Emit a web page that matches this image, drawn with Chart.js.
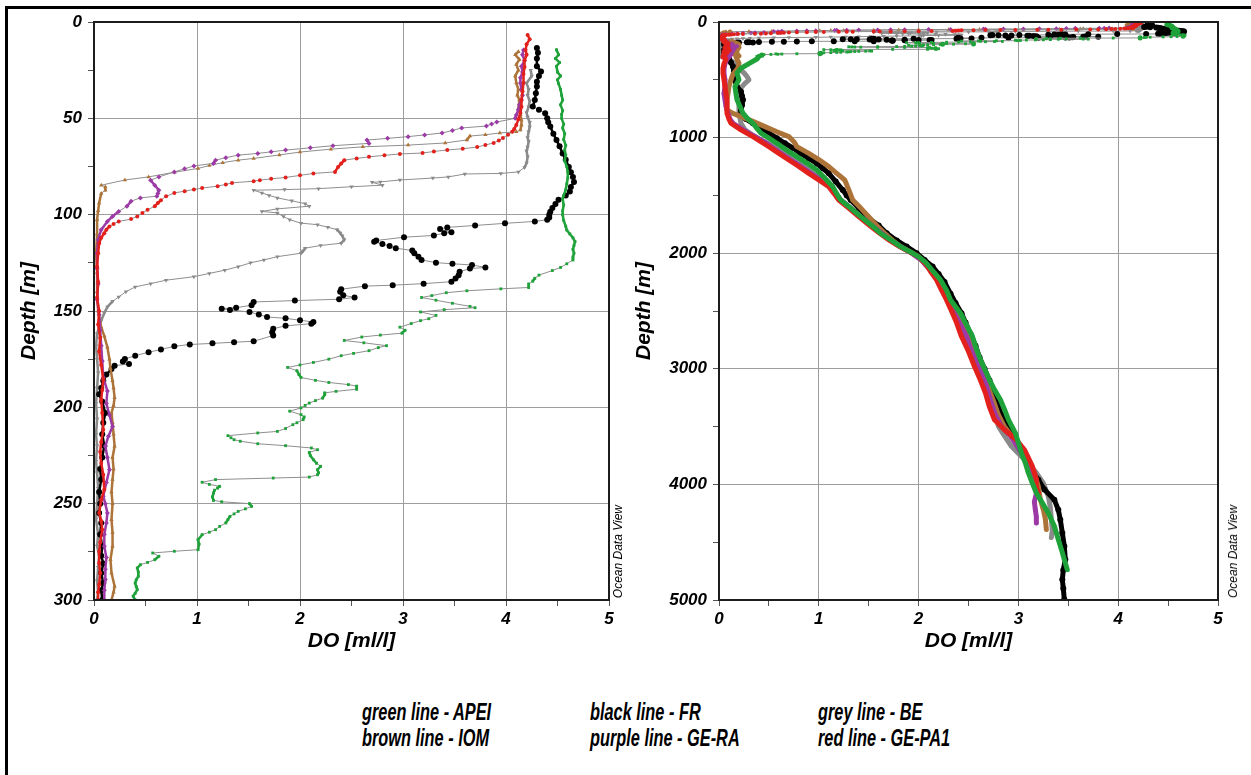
<!DOCTYPE html>
<html>
<head>
<meta charset="utf-8">
<script src="https://cdn.jsdelivr.net/npm/chart.js@4.4.1/dist/chart.umd.min.js"></script>
<style>
	body { margin: 0; background: #fff; width: 1251px; height: 775px; overflow: hidden; position: relative; }
	.frame { position: absolute; left: 5px; top: 6px; width: 1300px; height: 820px; border-left: 3px solid #000; border-top: 3px solid #000; }
	.panel { position: absolute; top: 0; }
	.odv { position: absolute; bottom: 177px; font: italic 12px "Liberation Sans", Arial, sans-serif; color: #000; writing-mode: vertical-rl; transform: rotate(180deg); line-height: 12px; }
	.key { position: absolute; font: italic bold 23px "Liberation Sans", Arial, sans-serif; color: #000; white-space: nowrap; line-height: 26px; transform: scaleX(0.71); transform-origin: 0 0; }
</style>
</head>
<body>
<div class="frame"></div>
<canvas id="upper" class="panel" style="left:0" width="630" height="660"></canvas>
<canvas id="full" class="panel" style="left:625px" width="626" height="660"></canvas>
<div class="odv" style="left:612px">Ocean Data View</div>
<div class="odv" style="left:1227px">Ocean Data View</div>
<div class="key" style="left:362px;top:699px">green line - APEI<br>brown line - IOM</div>
<div class="key" style="left:590px;top:699px">black line - FR<br>purple line - GE-RA</div>
<div class="key" style="left:818px;top:699px">grey line - BE<br>red line - GE-PA1</div>

<script>
// ---- upper 300 m profiles (depth m / DO ml/l) ----
const apeiDepth = [14.4,17,19,21,23,26,28,30,32,35,38,40.5,43,46,48,50,53,55,58,61,64,66.5,69,72,75,78,81,84,87,90,92,95,98,100,103,106,108,110,112,114,116,118,120,122,123.5,125.5,127.4,129,131.4,133,134.5,136,137.8,138.5,139.5,140.5,142,143,144.4,146,147.6,148.3,149.3,150.5,152.3,154,155,156.5,158.4,160,161.5,162.5,163.5,165.3,166.5,168,169,170.6,172,173.2,175,176.7,178,179.3,181,183,184.5,186,187.1,188.2,189,190.6,191.7,192.5,193.4,195.2,196.5,197.8,199,200.3,202,203.8,205,206.4,208,209,211,212.5,213.3,214.7,215.8,216.8,217.6,218.9,219.9,221.1,222,223.4,225,227.2,229,230.6,232.4,234,235,236.2,236.7,237.5,238.9,240,241,241.9,243,244.5,246.5,248.3,249,250,251.4,252.7,254,255.3,256.6,258.3,260,261.8,263.5,264.8,266.1,268.7,271,273.9,274.7,275.6,277.3,279.1,280.5,281.7,283.4,285.5,287.7,289.5,291.2,293,294.6,296.5,298,300];
const apeiDO = [4.49,4.51,4.48,4.52,4.49,4.50,4.53,4.50,4.51,4.53,4.54,4.55,4.53,4.55,4.54,4.54,4.56,4.55,4.57,4.56,4.58,4.57,4.58,4.57,4.59,4.60,4.60,4.59,4.58,4.56,4.55,4.56,4.55,4.55,4.56,4.58,4.59,4.62,4.65,4.67,4.66,4.65,4.66,4.65,4.65,4.59,4.53,4.45,4.32,4.28,4.26,4.22,4.22,3.95,3.62,3.42,3.28,3.18,3.32,3.48,3.65,3.70,3.40,3.17,3.32,3.25,3.17,3.08,2.97,3.02,2.99,2.78,2.60,2.43,2.62,2.84,2.76,2.67,2.52,2.40,2.28,2.13,2.00,1.88,1.97,1.99,2.01,2.15,2.28,2.47,2.55,2.55,2.35,2.24,2.24,2.22,2.15,2.09,2.05,2.01,1.90,2.01,2.04,2.03,1.97,1.93,1.86,1.78,1.59,1.30,1.33,1.36,1.42,1.59,1.86,2.11,2.17,2.09,2.10,2.13,2.16,2.20,2.17,2.18,2.17,2.09,1.74,1.18,1.05,1.12,1.22,1.20,1.17,1.16,1.15,1.16,1.24,1.51,1.53,1.47,1.40,1.36,1.32,1.30,1.28,1.22,1.18,1.12,1.05,1.01,1.02,1.01,0.78,0.57,0.63,0.59,0.52,0.45,0.42,0.43,0.43,0.41,0.40,0.41,0.42,0.40,0.38,0.40];

const frDepth = [13.5,16,19,23,25.7,28,31,33.5,37,40.5,43.9,45.5,47.4,50,52,54.3,58,61.3,64.5,68.2,71.5,75.2,78,80.4,83,85.6,88,90,92.2,94.5,96.5,98.5,100,101.5,102.6,103.5,104.5,105.6,106.6,107.5,109.1,109.6,110.8,111.7,113.4,114.1,115.2,116.3,117.4,118.6,120,121.8,123.5,124.9,125.5,126.1,127.4,128,129.6,131.5,133.1,134.8,135.8,136.6,137.1,138.7,140,141.8,143,143.9,144.6,145.3,147,148.3,148.8,149.5,150.5,151.8,153.1,153.8,154.8,155.7,156.6,157.7,159.2,161,162.7,165.7,166.2,166.8,167.4,168.3,170,171.4,173.2,174.9,176.2,177.5,178.4,180.1,183,186.2,190,193.2,197,203,208,214,220,226,232,237.5,244,250,254.8,260,266,272,277,281,286,291,295,300];
const frDO = [4.30,4.31,4.30,4.30,4.34,4.32,4.30,4.30,4.29,4.28,4.26,4.32,4.38,4.40,4.41,4.43,4.46,4.49,4.52,4.55,4.58,4.61,4.63,4.65,4.66,4.63,4.62,4.58,4.51,4.48,4.45,4.43,4.42,4.42,4.40,4.28,3.99,3.70,3.43,3.36,3.47,3.40,3.30,3.01,2.74,2.72,2.80,2.87,2.93,3.09,3.11,3.15,3.18,3.32,3.48,3.67,3.80,3.65,3.55,3.54,3.51,3.47,3.20,2.90,2.63,2.40,2.39,2.42,2.53,2.38,1.95,1.55,1.53,1.38,1.24,1.32,1.51,1.60,1.68,1.86,2.00,2.13,2.11,1.86,1.74,1.73,1.74,1.55,1.36,1.15,0.93,0.78,0.65,0.53,0.40,0.30,0.28,0.34,0.20,0.17,0.12,0.09,0.07,0.05,0.08,0.11,0.09,0.08,0.10,0.08,0.06,0.07,0.05,0.06,0.05,0.07,0.06,0.08,0.07,0.09,0.07,0.09,0.07,0.08];

const beDepth = [25,28,31.7,35,38,41,44,47,49.3,52,54.5,57,60,62,64.9,67,70,73.2,75.5,77.8,78.6,78.9,80.4,81,82,83,83.2,84.7,85.5,86.5,87,87.3,88.7,90,91.3,92.8,94.3,95.6,97,98.3,99.1,101,102.6,104.4,105.2,106.5,107.8,109.5,111,113,114.8,116,117.4,118.8,120,121.8,123.5,125,127,128.8,130.5,132.2,134,135.8,137.5,140,142.7,145,147.9,151,154.9,158,161.8,168,175,182,190,198,206,214,220,228,234,242,250,258,266,272,277,283,290,296,300];
const beDO = [4.24,4.25,4.20,4.22,4.21,4.23,4.22,4.20,4.21,4.23,4.23,4.22,4.21,4.22,4.21,4.20,4.21,4.20,4.18,4.12,3.95,3.60,3.44,3.29,2.97,2.78,2.70,2.80,2.50,2.18,1.85,1.55,1.63,1.70,1.78,1.92,2.05,2.09,1.78,1.63,1.78,1.84,1.90,2.01,2.17,2.27,2.36,2.39,2.41,2.43,2.40,2.20,2.05,2.03,2.01,1.78,1.65,1.52,1.40,1.27,1.12,0.97,0.70,0.55,0.40,0.31,0.24,0.18,0.13,0.10,0.07,0.05,0.03,0.02,0.03,0.04,0.03,0.02,0.03,0.02,0.03,0.02,0.03,0.04,0.03,0.02,0.04,0.03,0.05,0.04,0.03,0.04,0.03];

const iomDepth = [15.4,17,19.5,22,25,28,31.7,35,38,40.5,44.8,48,50.9,53.5,56.1,57,57.6,58.5,59.2,61.2,62.8,63.9,64.8,66,67.5,69,70.8,71.7,73,74.5,76,78,80.4,82,84.7,85.6,87.3,89,93.9,98,102.6,110,120,130,140,150,158.4,163,168.8,175,180,186.2,190,195,199,202.9,208,214,220.2,226,232,237.5,244,250,258.3,265,272.1,279,286,292.9,296,300];
const iomDO = [4.12,4.09,4.13,4.10,4.12,4.09,4.10,4.12,4.11,4.13,4.12,4.14,4.15,4.15,4.14,4.10,3.94,3.80,3.65,3.62,3.41,3.05,2.61,2.30,2.00,1.80,1.55,1.40,1.25,1.12,1.01,0.78,0.53,0.30,0.07,0.11,0.11,0.07,0.05,0.04,0.03,0.03,0.02,0.03,0.03,0.04,0.07,0.10,0.13,0.15,0.16,0.18,0.19,0.20,0.19,0.17,0.18,0.19,0.20,0.18,0.19,0.18,0.17,0.18,0.17,0.18,0.18,0.16,0.17,0.20,0.19,0.17];

const geraDepth = [14.5,17,20,23,26,29,31.7,35,38,40.5,43,45.5,48.3,50,51.9,53,54,55,56.3,57.6,58.6,59.5,60.4,61.3,63,64.2,65.3,66.5,67.4,68.2,69.1,70.4,71.7,73.4,74.7,76.2,77.8,80.4,82.1,84.7,87.3,89,90.4,91.3,93,95.6,98.3,100.9,103.5,107.8,113,120,128,136,144,152,160,168,176,184.5,191.5,198,204,209.9,215,220.2,226,232.4,239,246.2,250,254.8,260,266,272.1,278,284,289.4,295,300];
const geraDO = [4.17,4.16,4.18,4.15,4.16,4.14,4.14,4.15,4.16,4.15,4.13,4.12,4.10,4.09,3.91,3.86,3.81,3.57,3.48,3.38,3.21,3.05,2.85,2.65,2.67,2.32,2.10,1.86,1.72,1.59,1.40,1.28,1.18,1.16,0.97,0.88,0.78,0.63,0.55,0.59,0.63,0.62,0.61,0.45,0.36,0.32,0.24,0.18,0.13,0.07,0.04,0.03,0.03,0.04,0.03,0.05,0.06,0.07,0.08,0.09,0.13,0.12,0.15,0.18,0.14,0.11,0.13,0.15,0.12,0.09,0.11,0.13,0.12,0.10,0.10,0.12,0.11,0.11,0.10,0.10];

const gepaDepth = [6.7,9,11.5,14.5,17,20,23.4,27,31.7,36,40.5,44,47.2,50.5,53.5,55.5,57,58.5,60.2,61.5,62.8,63.8,64.9,65.8,66.4,67.2,68,68.5,69.2,70,70.8,71.7,73.5,75.2,77.8,78.6,79.6,80.7,81.4,82.1,82.6,83.5,84.3,85.2,86.2,86.9,87.8,88.7,90.5,92.5,94,95.6,97.5,99.1,100.9,102.3,103.5,104.8,106.1,107.8,109.6,112,114.8,120,127,135,143,150,157,164,171,178,185.6,191,196,203,211.6,218,223,228.9,235,242.7,248,254.8,259,263.5,270,275,280.8,286,292,296,300];
const gepaDO = [4.21,4.23,4.20,4.19,4.20,4.18,4.18,4.17,4.17,4.16,4.15,4.15,4.14,4.12,4.10,4.08,4.06,4.02,3.97,3.93,3.88,3.80,3.72,3.58,3.43,3.30,3.19,2.97,2.82,2.67,2.55,2.43,2.40,2.37,2.34,2.13,2.00,1.86,1.72,1.61,1.55,1.34,1.28,1.20,1.05,0.97,0.88,0.78,0.70,0.65,0.62,0.59,0.52,0.47,0.42,0.36,0.24,0.19,0.15,0.12,0.10,0.07,0.05,0.04,0.03,0.04,0.03,0.05,0.04,0.06,0.05,0.07,0.09,0.08,0.07,0.08,0.09,0.07,0.06,0.07,0.09,0.10,0.07,0.05,0.07,0.08,0.06,0.05,0.05,0.06,0.05,0.04,0.04];

// ---- deeper continuation, 300 m to the bottom ----
const apeiDeepDepth = [320,360,400,442,500,558,620,673,730,789,830,876,920,962,1005,1049,1110,1165,1220,1280,1350,1425,1500,1540,1610,1684,1760,1828,1890,1943,1990,2029,2080,2150,2231,2320,2404,2519,2620,2720,2830,2922,3000,3095,3180,3268,3350,3440,3556,3640,3729,3815,3901,3990,4074,4160,4247,4360,4477,4560,4650,4737];
const apeiDeepDO = [0.38,0.30,0.22,0.18,0.20,0.16,0.17,0.18,0.21,0.24,0.28,0.34,0.38,0.42,0.50,0.58,0.68,0.78,0.88,0.98,1.06,1.14,1.19,1.22,1.32,1.42,1.53,1.62,1.73,1.82,1.92,2.00,2.07,2.14,2.22,2.28,2.32,2.42,2.48,2.54,2.58,2.62,2.66,2.71,2.76,2.82,2.86,2.90,2.97,3.00,3.03,3.07,3.10,3.14,3.18,3.24,3.30,3.36,3.40,3.43,3.46,3.49];

const frDeepDepth = [320,350,384,430,480,520,558,601,640,673,720,760,803,840,876,920,962,1005,1049,1090,1136,1180,1223,1265,1309,1380,1454,1500,1540,1610,1684,1760,1828,1890,1943,2000,2058,2116,2180,2250,2350,2430,2520,2600,2700,2800,2900,3000,3100,3200,3300,3400,3500,3600,3700,3800,3900,3960,4045,4132,4220,4305,4420,4535,4650,4740,4823,4900,4996];
const frDeepDO = [0.10,0.12,0.14,0.15,0.16,0.17,0.18,0.22,0.23,0.24,0.23,0.22,0.22,0.27,0.34,0.42,0.50,0.58,0.66,0.74,0.82,0.90,0.98,1.04,1.10,1.17,1.24,1.28,1.32,1.40,1.48,1.60,1.68,1.78,1.88,1.98,2.06,2.14,2.20,2.26,2.32,2.37,2.43,2.47,2.52,2.57,2.61,2.66,2.71,2.75,2.79,2.83,2.89,2.96,3.04,3.10,3.15,3.20,3.26,3.36,3.40,3.42,3.44,3.46,3.47,3.45,3.44,3.45,3.46];

const beDeepDepth = [320,360,400,440,471,500,530,570,620,673,730,789,830,876,933,980,1020,1080,1136,1210,1280,1345,1410,1480,1540,1610,1684,1760,1828,1890,1943,2000,2060,2130,2231,2330,2420,2520,2620,2720,2820,2922,3020,3120,3210,3300,3400,3498,3580,3671,3750,3815,3900,3990,4103,4200,4300,4400,4460];
const beDeepDO = [0.10,0.16,0.20,0.25,0.28,0.30,0.26,0.22,0.20,0.20,0.20,0.20,0.21,0.22,0.26,0.34,0.42,0.56,0.70,0.80,0.90,1.00,1.10,1.16,1.22,1.32,1.42,1.53,1.62,1.72,1.82,1.94,2.04,2.11,2.20,2.26,2.31,2.38,2.44,2.50,2.55,2.60,2.64,2.68,2.71,2.74,2.77,2.80,2.86,2.93,3.02,3.10,3.18,3.25,3.30,3.32,3.33,3.34,3.33];

const iomDeepDepth = [320,355,400,450,500,558,620,673,730,760,790,818,860,905,950,991,1035,1078,1136,1190,1251,1310,1367,1450,1540,1610,1684,1760,1828,1890,1943,2000,2060,2130,2231,2330,2420,2520,2620,2720,2820,2922,3020,3120,3210,3300,3400,3498,3580,3671,3760,3850,3930,4020,4132,4220,4300,4391];
const iomDeepDO = [0.18,0.20,0.19,0.14,0.12,0.10,0.09,0.08,0.08,0.08,0.14,0.22,0.34,0.46,0.58,0.70,0.75,0.78,0.90,1.00,1.10,1.18,1.26,1.30,1.34,1.42,1.50,1.58,1.66,1.74,1.82,1.94,2.03,2.10,2.19,2.26,2.31,2.37,2.43,2.49,2.54,2.59,2.64,2.68,2.72,2.76,2.80,2.86,2.93,3.00,3.07,3.13,3.17,3.20,3.22,3.25,3.27,3.28];

const geraDeepDepth = [320,360,400,450,500,558,620,673,730,789,840,876,933,991,1040,1078,1136,1194,1250,1309,1367,1425,1480,1540,1610,1684,1760,1828,1890,1943,2000,2060,2130,2231,2330,2420,2520,2620,2720,2820,2922,3020,3120,3210,3300,3400,3498,3580,3671,3760,3850,3930,4010,4080,4150,4220,4280,4333];
const geraDeepDO = [0.08,0.06,0.05,0.05,0.06,0.06,0.05,0.06,0.07,0.09,0.11,0.14,0.24,0.36,0.46,0.52,0.62,0.72,0.82,0.92,1.02,1.12,1.17,1.22,1.32,1.42,1.53,1.63,1.72,1.82,1.93,2.03,2.10,2.19,2.25,2.30,2.36,2.42,2.48,2.52,2.57,2.62,2.67,2.70,2.73,2.77,2.83,2.92,2.99,3.05,3.10,3.14,3.17,3.18,3.16,3.17,3.18,3.18];

const gepaDeepDepth = [320,360,400,442,500,558,620,673,730,789,840,876,933,991,1035,1078,1136,1194,1250,1309,1367,1425,1480,1540,1610,1684,1760,1828,1890,1943,2029,2100,2170,2231,2320,2404,2500,2600,2721,2850,2980,3100,3210,3330,3441,3527,3614,3700,3770,3844,3900,3959,4017,4074];
const gepaDeepDO = [0.07,0.05,0.04,0.04,0.05,0.06,0.07,0.08,0.08,0.08,0.10,0.12,0.22,0.34,0.42,0.50,0.60,0.70,0.80,0.90,1.00,1.10,1.15,1.20,1.30,1.40,1.51,1.61,1.71,1.81,2.00,2.08,2.13,2.18,2.23,2.28,2.33,2.38,2.43,2.50,2.56,2.62,2.67,2.71,2.76,2.86,2.98,3.06,3.10,3.14,3.16,3.18,3.18,3.20];

// axis ticks
const doTicks = [0, 1, 2, 3, 4, 5];
const upperDepthTicks = [0, 50, 100, 150, 200, 250, 300];
const fullDepthTicks = [0, 1000, 2000, 3000, 4000, 5000];

// drawing order: first entry ends up on top
const stations = [
	{ name: 'APEI', color: '#1fa23a', marker: 'rect', size: 2, depth: apeiDepth, oxy: apeiDO, deepDepth: apeiDeepDepth, deepOxy: apeiDeepDO },
	{ name: 'GE-PA1', color: '#e3211c', marker: 'circle', size: 2, depth: gepaDepth, oxy: gepaDO, deepDepth: gepaDeepDepth, deepOxy: gepaDeepDO },
	{ name: 'GE-RA', color: '#9c3aa6', marker: 'rectRot', size: 2.5, depth: geraDepth, oxy: geraDO, deepDepth: geraDeepDepth, deepOxy: geraDeepDO },
	{ name: 'IOM', color: '#ad7439', marker: 'triangle', size: 2.5, depth: iomDepth, oxy: iomDO, deepDepth: iomDeepDepth, deepOxy: iomDeepDO },
	{ name: 'FR', color: '#000000', marker: 'circle', size: 3, depth: frDepth, oxy: frDO, deepDepth: frDeepDepth, deepOxy: frDeepDO },
	{ name: 'BE', color: '#8a8a8a', marker: 'triangle', rot: 180, size: 2.5, depth: beDepth, oxy: beDO, deepDepth: beDeepDepth, deepOxy: beDeepDO },
];

const LINK = '#8e8e8e';
const GRID = '#9d9d9d';
const FONT = '"Liberation Sans", Arial, sans-serif';
const TICK_FONT = { family: FONT, size: 17, weight: 'bold', style: 'italic' };
const TITLE_FONT = { family: FONT, size: 21, weight: 'bold', style: 'italic' };

// box around the plot area
const plotFrame = {
	id: 'plotFrame',
	afterDraw(chart) {
		const { ctx, chartArea: a } = chart;
		ctx.save();
		ctx.strokeStyle = '#1c1c1c';
		ctx.lineWidth = 2;
		ctx.strokeRect(a.left, a.top, a.right - a.left, a.bottom - a.top);
		ctx.restore();
	}
};

// dense casts read as a solid coloured line, sparse steps as grey joins
function segmentStyle(color, width, flatRatio) {
	const flat = c => Math.abs(c.p1.x - c.p0.x) > flatRatio * Math.abs(c.p1.y - c.p0.y);
	return {
		borderColor: c => flat(c) ? LINK : color,
		borderWidth: c => flat(c) ? 1 : width,
	};
}

function datasets(full) {
	return stations.map(s => {
		const depth = full ? s.depth.concat(s.deepDepth) : s.depth;
		const oxy = full ? s.oxy.concat(s.deepOxy) : s.oxy;
		return {
			label: s.name,
			data: depth.map((d, i) => ({ x: oxy[i], y: d })),
			showLine: true,
			borderColor: LINK,
			borderWidth: 1,
			borderCapStyle: 'round',
			borderJoinStyle: 'round',
			segment: segmentStyle(s.color, full ? 5 : 2.5, full ? 3 : 1.25),
			pointStyle: s.marker,
			rotation: s.rot || 0,
			pointRadius: s.size,
			pointBackgroundColor: s.color,
			pointBorderColor: s.color,
			pointBorderWidth: 0,
		};
	});
}

function doAxis() {
	return {
		type: 'linear', min: 0, max: 5,
		afterFit: s => { s.height = 60; },
		afterBuildTicks: s => { s.ticks = []; for (let v = 0; v <= 5; v += 0.5) s.ticks.push({ value: v }); },
		ticks: {
			autoSkip: false, maxRotation: 0, padding: 3, color: '#000', font: TICK_FONT,
			callback: v => doTicks.includes(v) ? String(v) : ''
		},
		grid: {
			color: c => c.tick && doTicks.includes(c.tick.value) ? GRID : 'rgba(0,0,0,0)',
			tickColor: '#555', tickLength: 6, lineWidth: 1
		},
		border: { color: '#222', width: 1 },
		title: { display: true, text: 'DO [ml/l]', color: '#000', font: TITLE_FONT, padding: { top: 0, bottom: 6 } }
	};
}

function depthAxis(labels, titlePad) {
	const max = labels[labels.length - 1];
	const step = labels[1] / 2;
	return {
		type: 'linear', reverse: true, min: 0, max,
		afterFit: s => { s.width = 94; },
		afterBuildTicks: s => { s.ticks = []; for (let v = 0; v <= max; v += step) s.ticks.push({ value: v }); },
		ticks: {
			autoSkip: false, padding: 6, color: '#000', font: TICK_FONT,
			callback: v => labels.includes(v) ? String(v) : ''
		},
		grid: {
			color: c => c.tick && labels.includes(c.tick.value) ? GRID : 'rgba(0,0,0,0)',
			tickColor: '#555', tickLength: 6, lineWidth: 1
		},
		border: { color: '#222', width: 1 },
		title: { display: true, text: 'Depth [m]', color: '#000', font: TITLE_FONT, padding: { top: titlePad, bottom: 0 } }
	};
}

function makeChart(id, full, labels, padRight, titlePad) {
	return new Chart(document.getElementById(id).getContext('2d'), {
		type: 'scatter',
		data: { datasets: datasets(full) },
		options: {
			responsive: false,
			animation: false,
			devicePixelRatio: 1,
			layout: { padding: { top: 22, right: padRight, left: 0, bottom: 0 } },
			plugins: { legend: { display: false }, tooltip: { enabled: false } },
			scales: { x: doAxis(), y: depthAxis(labels, titlePad) }
		},
		plugins: [plotFrame]
	});
}

makeChart('upper', false, upperDepthTicks, 21, 17);
makeChart('full', true, fullDepthTicks, 33, 7);
</script>
</body>
</html>
